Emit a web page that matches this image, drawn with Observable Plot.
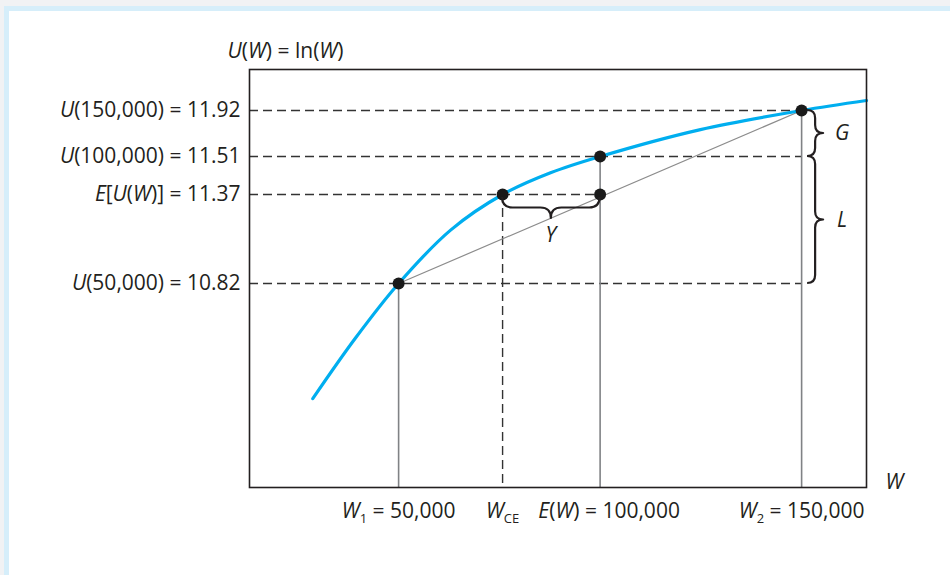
<!DOCTYPE html>
<html><head><meta charset="utf-8">
<script src="https://cdn.jsdelivr.net/npm/d3@7"></script>
<script src="https://cdn.jsdelivr.net/npm/@observablehq/plot@0.6"></script>
<style>
html,body{margin:0;padding:0;width:950px;height:575px;overflow:hidden;background:#f1f2f4;}
#panel{position:absolute;left:4px;top:6px;width:1000px;height:620px;border:5px solid #d6eefa;background:#fff;}
#chart{position:absolute;left:0;top:0;width:950px;height:575px;}
#chart svg{overflow:visible;}
</style>
</head><body>
<div id="panel"></div>
<div id="chart"></div>
<script>
// ---- data (schematic diagram units: W in dollars, U in utils) ----
const curveW = [28700, 39300, 50000, 62900, 75800, 87700, 100000, 124900, 150000, 166100];
const curveU = [10.25, 10.55, 10.82, 11.15, 11.37, 11.45, 11.51, 11.75, 11.92, 12.01];

const pointW = [50000, 75800, 100000, 100000, 150000];
const pointU = [10.82, 11.37, 11.37, 11.51, 11.92];

const secantW = [50000, 150000];
const secantU = [10.82, 11.92];

const guideU = [10.82, 11.37, 11.51, 11.92];
const guideEndW = [150000, 100000, 150000, 150000];

const dropW = [50000, 100000, 150000];
const dropFromU = [10.82, 11.51, 11.92];

const wCE = 75800;
const expectedU = 11.37;

const yTickValues = [10.82, 11.37, 11.51, 11.92];
const yTickLabels = ["*U*(50,000) = 10.82", "*E*[*U*(*W*)] = 11.37", "*U*(100,000) = 11.51", "*U*(150,000) = 11.92"];

const xTickValues = [50000, 75800, 100000, 150000];
const xTickLabels = ["*W*_{1} = 50,000", "*W*_{CE}", "*E*(*W*) = 100,000", "*W*_{2} = 150,000"];
const xTickShifted = [100000]; // label nudged right to clear W_CE

const braceLabels = ["G", "L", "Y"];
const braceFrom = [11.92, 11.51, 75800];
const braceTo = [11.51, 10.82, 100000];
const braceAt = [150000, 150000, 11.37];
const braceDir = ["right", "right", "down"];

const yTitle = "*U*(*W*) = ln(*W*)";
const xTitle = "*W*";

const xDomain = [13000, 166100];
const yDomain = [9.81, 10.82, 11.37, 11.51, 11.92, 12.29];
const yRange = [487, 283, 194, 156, 110, 69];

// ---- tables ----
const curve = curveW.map((w, i) => ({W: w, U: curveU[i]}));
const points = pointW.map((w, i) => ({W: w, U: pointU[i]}));
const secant = secantW.map((w, i) => ({W: w, U: secantU[i]}));
const guides = guideU.map((u, i) => ({U: u, end: guideEndW[i]}));
const drops = dropW.map((w, i) => ({W: w, from: dropFromU[i]}));
const braces = braceLabels.map((l, i) => ({label: l, from: braceFrom[i], to: braceTo[i], at: braceAt[i], dir: braceDir[i]}));

const INK = "#231f20";
const FS = 21;

function bracePath(len, d) {
  const q = d / 2, h = len / 2;
  return [[0,0,"M"],[0,q,"Q"],[q,q,""],[h-q,q,"L"],[h,q,"Q"],[h,d,""],[h,q,"Q"],[h+q,q,""],[len-q,q,"L"],[len,q,"Q"],[len,0,""]];
}

function bracesMark(index, scales) {
  const g = d3.create("svg:g").attr("fill", "none");
  for (const b of braces) {
    let cmds, lx, ly;
    if (b.dir === "right") {
      const bx = scales.x(b.at) + 6, y1 = scales.y(b.from), y2 = scales.y(b.to);
      const len = y2 - y1, d = 16;
      cmds = bracePath(len, d).map(([u, v, c]) => [bx + v, y1 + u, c]);
      lx = bx + d + 19; ly = (y1 + y2) / 2;
    } else {
      const by = scales.y(b.at) + 3, x1 = scales.x(b.from), x2 = scales.x(b.to);
      const len = x2 - x1, d = 21;
      cmds = bracePath(len, d).map(([u, v, c]) => [x1 + u, by + v, c]);
      lx = (x1 + x2) / 2; ly = by + d + 17;
    }
    const dstr = cmds.map(([x, y, c]) => `${c}${x.toFixed(2)},${y.toFixed(2)}`).join(" ");
    g.append("path").attr("d", dstr).attr("stroke", INK).attr("stroke-width", 2.2).attr("stroke-linejoin", "round");
    g.append("text").attr("x", lx).attr("y", ly).attr("dy", "0.35em").attr("text-anchor", "middle")
      .attr("fill", INK).attr("font-style", "italic").attr("font-size", FS).text(b.label);
  }
  return g.node();
}

const xFmt = d => xTickLabels[xTickValues.indexOf(d)];

const plot = Plot.plot({
  width: 950,
  height: 575,
  marginLeft: 249,
  marginRight: 84,
  marginTop: 69,
  marginBottom: 88,
  style: {background: "transparent", fontFamily: "'Open Sans', sans-serif", fontSize: FS + "px", color: INK, overflow: "visible"},
  x: {type: "linear", domain: xDomain},
  y: {type: "linear", domain: yDomain, range: yRange},
  marks: [
    Plot.frame({fill: "white", stroke: "none"}),
    Plot.ruleY(guides, {y: "U", x1: xDomain[0], x2: "end", stroke: "#333", strokeWidth: 1.4, strokeDasharray: "9,5"}),
    Plot.ruleX([wCE], {x: d => d, y1: expectedU, y2: yDomain[0], stroke: "#333", strokeWidth: 1.4, strokeDasharray: "9,5"}),
    Plot.ruleX(drops, {x: "W", y1: "from", y2: yDomain[0], stroke: "#808285", strokeWidth: 1.6}),
    Plot.line(secant, {x: "W", y: "U", stroke: "#8c8c8c", strokeWidth: 1.2}),
    Plot.line(curve, {x: "W", y: "U", curve: "catmull-rom", stroke: "#00aeef", strokeWidth: 3.2}),
    Plot.dot(points, {x: "W", y: "U", r: 6, fill: "#1a1a1a", stroke: "none"}),
    bracesMark,
    Plot.frame({stroke: INK, strokeWidth: 1.6}),
    Plot.axisY(yTickValues, {tickSize: 0, tickPadding: 9, label: null, fontSize: FS,
      tickFormat: d => yTickLabels[yTickValues.indexOf(d)]}),
    Plot.axisX(xTickValues.filter(v => !xTickShifted.includes(v)), {tickSize: 0, tickPadding: 16, label: null, fontSize: FS, tickFormat: xFmt}),
    Plot.axisX(xTickShifted, {tickSize: 0, tickPadding: 16, label: null, fontSize: FS, tickFormat: xFmt, dx: 9}),
    Plot.text([yTitle], {text: d => d, frameAnchor: "top-left", textAnchor: "start", lineAnchor: "bottom", dx: -22, dy: -12, fontSize: FS}),
    Plot.text([xTitle], {text: d => d, frameAnchor: "bottom-right", textAnchor: "start", lineAnchor: "bottom", dx: 19, dy: 1, fontSize: FS})
  ]
});

// shadow on the white plot panel
const firstFrame = plot.querySelector('g[aria-label="frame"]');
if (firstFrame) firstFrame.style.filter = "drop-shadow(6px 6px 6px rgba(0,0,0,0.45))";

// rich text: *italic* and _{subscript}
const NS = "http://www.w3.org/2000/svg";
function richify(el) {
  const s = el.textContent;
  if (!/[*_]/.test(s)) return;
  const re = /\*([^*]+)\*|_\{([^}]+)\}|([^*_]+)/g;
  el.textContent = "";
  let m, pending = 0;
  while ((m = re.exec(s))) {
    const t = document.createElementNS(NS, "tspan");
    if (m[1] !== undefined) { t.textContent = m[1]; t.setAttribute("font-style", "italic"); }
    else if (m[2] !== undefined) { t.textContent = m[2]; t.setAttribute("font-size", "13px"); t.setAttribute("dy", "5"); pending = -5; el.appendChild(t); continue; }
    else { t.textContent = m[3]; }
    if (pending) { t.setAttribute("dy", String(pending)); pending = 0; }
    el.appendChild(t);
  }
}
plot.querySelectorAll("text").forEach(richify);

document.getElementById("chart").appendChild(plot);
</script>
</body></html>
